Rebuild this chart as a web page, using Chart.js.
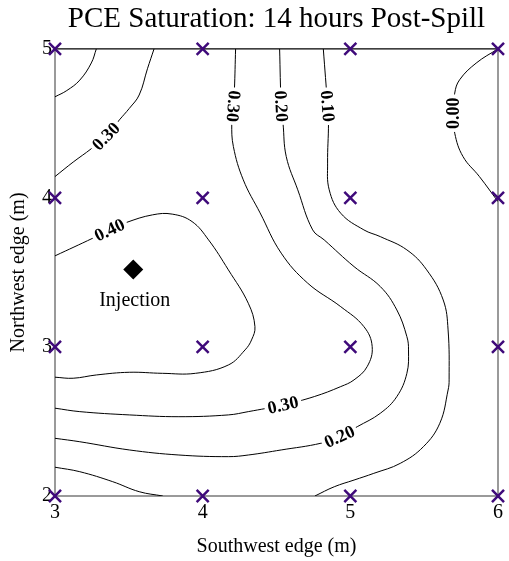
<!DOCTYPE html>
<html>
<head>
<meta charset="utf-8">
<script src="https://cdn.jsdelivr.net/npm/chart.js@4.4.1/dist/chart.umd.min.js"></script>
<style>
  body { margin: 0; background: #fff; }
  #wrap { width: 509px; height: 561px; }
</style>
</head>
<body>
<div id="wrap"><canvas id="myChart"></canvas></div>
<script>
// sampling wells on the grid (m)
var wellX = [3, 4, 5, 6];
var wellY = [2, 3, 4, 5];
var injectionX = [3.53];
var injectionY = [3.52];

// contour lines, [southwest, northwest] in m
var c020corner = [[3.28,5.0],[3.246,4.905],[3.168,4.79],[3.08,4.72],[3.0,4.678]];
var c030nw = [[3.671,5.0],[3.626,4.866],[3.57,4.69],[3.503,4.6],[3.436,4.523],[3.345,4.413],
  [3.246,4.33],[3.123,4.24],[3.0,4.143]];
var c030 = [[4.223,5.0],[4.215,4.725],[4.208,4.615],[4.197,4.503],[4.208,4.344],[4.275,4.121],
  [4.389,3.899],[4.532,3.629],[4.711,3.428],[4.935,3.27],[5.092,3.136],[5.148,3.002],
  [5.114,2.868],[5.025,2.779],[4.935,2.734],[4.756,2.667],[4.544,2.611],[4.309,2.566],
  [4.174,2.544],[3.839,2.532],[3.503,2.544],[3.168,2.566],[3.0,2.589]];
var c020 = [[4.521,5.0],[4.532,4.615],[4.544,4.501],[4.566,4.277],[4.644,4.054],[4.745,3.785],
  [4.823,3.718],[5.025,3.539],[5.203,3.405],[5.315,3.248],[5.383,3.069],[5.394,2.98],
  [5.383,2.823],[5.315,2.667],[5.203,2.555],[5.047,2.465],[4.926,2.398],[4.801,2.354],
  [4.532,2.309],[4.309,2.275],[4.174,2.264],[3.839,2.275],[3.503,2.309],[3.168,2.364],[3.0,2.387]];
var c010 = [[4.817,5.0],[4.846,4.615],[4.852,4.501],[4.846,4.233],[4.857,4.054],[4.935,3.897],
  [5.092,3.785],[5.203,3.74],[5.383,3.651],[5.517,3.517],[5.629,3.315],[5.662,3.114],
  [5.669,2.779],[5.662,2.711],[5.606,2.488],[5.495,2.331],[5.338,2.219],[5.159,2.152],
  [5.025,2.107],[4.891,2.062],[4.76,2.0]];
var c000 = [[6.0,3.975],[5.874,4.143],[5.763,4.277],[5.707,4.434],[5.70,4.568],[5.707,4.703],
  [5.74,4.792],[5.852,4.904],[6.0,5.0]];
var c040 = [[3.0,3.611],[3.257,3.73],[3.369,3.785],[3.481,3.834],[3.66,3.886],[3.794,3.891],
  [3.928,3.841],[4.04,3.718],[4.174,3.517],[4.309,3.293],[4.354,3.136],[4.331,3.047],
  [4.287,2.98],[4.174,2.879],[3.951,2.823],[3.727,2.823],[3.503,2.83],[3.28,2.812],
  [3.123,2.79],[3.0,2.797]];
var c010sw = [[3.0,2.193],[3.168,2.163],[3.391,2.096],[3.57,2.029],[3.73,2.0]];

var contours = [c020corner, c030nw, c030, c020, c010, c000, c040, c010sw];

// which vertex of which contour carries a level label
var levelLabels = [
  { line: c030nw, at: 5, text: "0.30" },
  { line: c030, at: 2, text: "0.30" },
  { line: c030, at: 16, text: "0.30" },
  { line: c020, at: 1, text: "0.20" },
  { line: c020, at: 16, text: "0.20" },
  { line: c010, at: 1, text: "0.10" },
  { line: c000, at: 4, text: "0.00" },
  { line: c040, at: 2, text: "0.40" }
];

var serif = "'Liberation Serif', 'Times New Roman', serif";

var wells = [];
wellY.forEach(function (y) {
  wellX.forEach(function (x) { wells.push({ x: x, y: y }); });
});

var datasets = [{
  data: wells,
  showLine: false,
  pointStyle: "crossRot",
  pointRadius: 8.5,
  pointBorderWidth: 2.5,
  pointBorderColor: "#3f0a7a",
  clip: false
}, {
  data: injectionX.map(function (x, i) { return { x: x, y: injectionY[i] }; }),
  showLine: false,
  pointStyle: "rectRot",
  pointRadius: 10,
  pointBackgroundColor: "#000",
  pointBorderColor: "#000",
  pointBorderWidth: 0
}];
contours.forEach(function (c) {
  datasets.push({
    data: c.map(function (p) { return { x: p[0], y: p[1] }; }),
    showLine: true,
    borderColor: "#000",
    borderWidth: 1,
    pointRadius: 0,
    tension: 0.4
  });
});

// no extra side padding for the end tick labels
function noSidePad(s) {
  s.paddingLeft = 0;
  s.paddingRight = 0;
  if (s._margins) { s._margins.left = 0; s._margins.right = 0; }
}

var framePlugin = {
  id: "frame",
  beforeDatasetsDraw: function (chart) {
    var a = chart.chartArea, ctx = chart.ctx;
    ctx.save();
    ctx.lineWidth = 1.5;
    ctx.strokeStyle = "#7a7a7a";
    ctx.beginPath();
    ctx.moveTo(a.left, a.top); ctx.lineTo(a.left, a.bottom);
    ctx.lineTo(a.right, a.bottom); ctx.lineTo(a.right, a.top);
    ctx.stroke();
    ctx.strokeStyle = "#000";
    ctx.lineWidth = 1.2;
    ctx.beginPath();
    ctx.moveTo(a.left, a.top); ctx.lineTo(a.right, a.top);
    ctx.stroke();
    ctx.restore();
  }
};

var labelPlugin = {
  id: "levels",
  afterDatasetsDraw: function (chart) {
    var ctx = chart.ctx, xs = chart.scales.x, ys = chart.scales.y;
    ctx.save();
    ctx.font = "bold 18px " + serif;
    ctx.textAlign = "center";
    ctx.textBaseline = "middle";
    levelLabels.forEach(function (l) {
      var p = l.line[l.at], p0 = l.line[l.at - 1], p1 = l.line[l.at + 1];
      var cx = xs.getPixelForValue(p[0]), cy = ys.getPixelForValue(p[1]);
      var dx = xs.getPixelForValue(p1[0]) - xs.getPixelForValue(p0[0]);
      var dy = ys.getPixelForValue(p1[1]) - ys.getPixelForValue(p0[1]);
      var ang = Math.atan2(dy, dx);
      if (ang > 1.75) ang -= Math.PI;
      if (ang < -1.75) ang += Math.PI;
      var w = ctx.measureText(l.text).width;
      ctx.save();
      ctx.translate(cx, cy);
      ctx.rotate(ang);
      ctx.fillStyle = "#fff";
      ctx.fillRect(-w / 2 - 3, -7, w + 6, 14);
      ctx.fillStyle = "#000";
      ctx.fillText(l.text, 0, 1);
      ctx.restore();
    });
    ctx.font = "20px " + serif;
    ctx.fillStyle = "#000";
    ctx.textBaseline = "alphabetic";
    ctx.fillText("Injection", xs.getPixelForValue(injectionX[0] + 0.01), ys.getPixelForValue(injectionY[0] - 0.245));
    ctx.restore();
  }
};

new Chart("myChart", {
  type: "scatter",
  data: { datasets: datasets },
  plugins: [framePlugin, labelPlugin],
  options: {
    responsive: true,
    maintainAspectRatio: false,
    animation: false,
    layout: { padding: { top: 0, right: 7, bottom: 0, left: 0 } },
    plugins: {
      legend: { display: false },
      tooltip: { enabled: false },
      title: {
        display: true,
        fullSize: false,
        text: "PCE Saturation: 14 hours Post-Spill",
        color: "#000",
        font: { family: serif, size: 29, weight: "normal" },
        padding: { top: 2, bottom: 12 }
      }
    },
    scales: {
      x: {
        min: 3, max: 6,
        afterFit: function (s) { s.height = 65; noSidePad(s); },
        grid: { display: false, drawTicks: false },
        border: { display: false },
        ticks: { stepSize: 1, padding: 5, color: "#000", font: { family: serif, size: 20 } },
        title: { display: true, text: "Southwest edge (m)", color: "#000",
          font: { family: serif, size: 20 }, padding: { top: 0, bottom: 2 } }
      },
      y: {
        min: 2, max: 5,
        afterFit: function (s) { s.width = 55; noSidePad(s); },
        grid: { display: false, drawTicks: false },
        border: { display: false },
        ticks: { stepSize: 1, padding: 3, color: "#000", font: { family: serif, size: 20 } },
        title: { display: true, text: "Northwest edge (m)", color: "#000",
          font: { family: serif, size: 20 }, padding: { top: 7, bottom: 0 } }
      }
    }
  }
});
</script>
</body>
</html>
